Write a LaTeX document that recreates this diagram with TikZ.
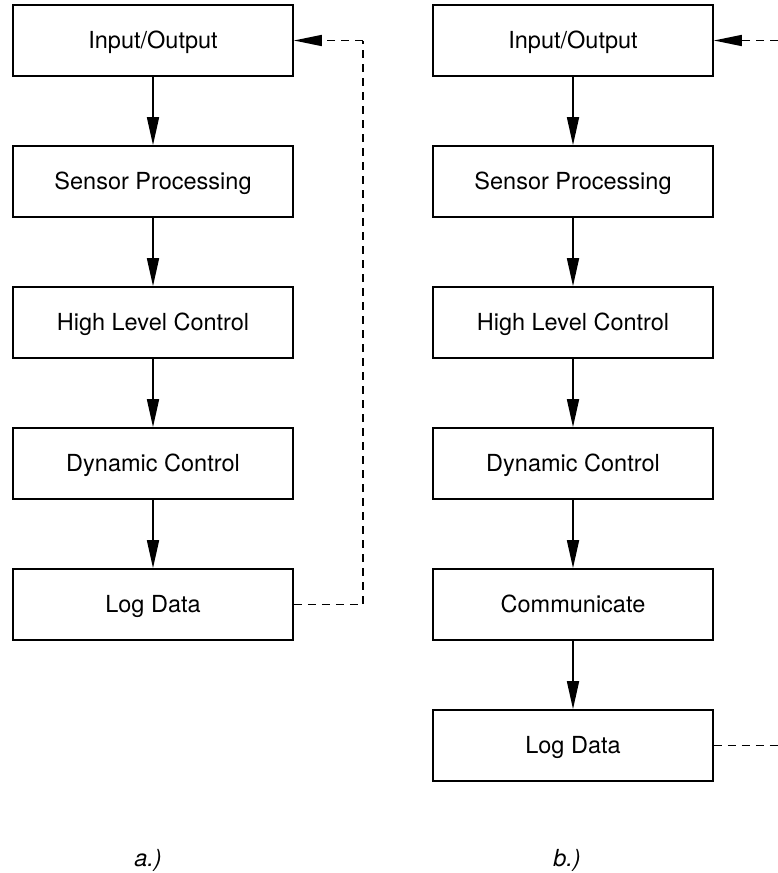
\documentclass[tikz,border=0pt]{standalone}
\usepackage{fontspec}
\setmainfont{TeX Gyre Heros}
\usetikzlibrary{arrows.meta}
\begin{document}
\begin{tikzpicture}[x=1pt,y=-1pt,
  blk/.style={draw=black,line width=1.7pt,minimum width=280pt,minimum height=71pt,inner sep=0pt,text height=15pt,text depth=0pt,font=\fontsize{23.5}{26}\selectfont,fill=white},
  flow/.style={line width=1.7pt,-{Triangle[length=28pt,width=12pt]}},
  fb/.style={line width=1.6pt,dash pattern=on 8pt off 6pt},
  fbarrow/.style={fb,-{Triangle[length=28pt,width=11pt]}},
  lbl/.style={font=\fontsize{23.5}{26}\selectfont\itshape}]
\useasboundingbox (0,0) rectangle (778,873);
% column a
\node[blk] (a1) at (153,40.5) {Input/Output};
\node[blk] (a2) at (153,181.5) {Sensor Processing};
\node[blk] (a3) at (153,322.5) {High Level Control};
\node[blk] (a4) at (153,463.5) {Dynamic Control};
\node[blk] (a5) at (153,604.5) {Log Data};
\draw[flow] (a1) -- (a2);
\draw[flow] (a2) -- (a3);
\draw[flow] (a3) -- (a4);
\draw[flow] (a4) -- (a5);
\coordinate (ca1) at (363,604.5);
\coordinate (ca2) at (363,40.5);
\draw[fb] (a5.east) -- (ca1) -- (ca2);
\draw[fbarrow] (ca2) -- (a1.east);
% column b
\node[blk] (b1) at (573,40.5) {Input/Output};
\node[blk] (b2) at (573,181.5) {Sensor Processing};
\node[blk] (b3) at (573,322.5) {High Level Control};
\node[blk] (b4) at (573,463.5) {Dynamic Control};
\node[blk] (b5) at (573,604.5) {Communicate};
\node[blk] (b6) at (573,745.5) {Log Data};
\draw[flow] (b1) -- (b2);
\draw[flow] (b2) -- (b3);
\draw[flow] (b3) -- (b4);
\draw[flow] (b4) -- (b5);
\draw[flow] (b5) -- (b6);
\coordinate (cb1) at (778,745.5);
\coordinate (cb2) at (778,40.5);
\draw[fb] (b6.east) -- (cb1);
\draw[fbarrow] (cb2) -- (b1.east);
% labels
\node[lbl] (la) at (148,860) {a.)};
\node[lbl] (lb) at (567,860) {b.)};
\end{tikzpicture}
\end{document}
